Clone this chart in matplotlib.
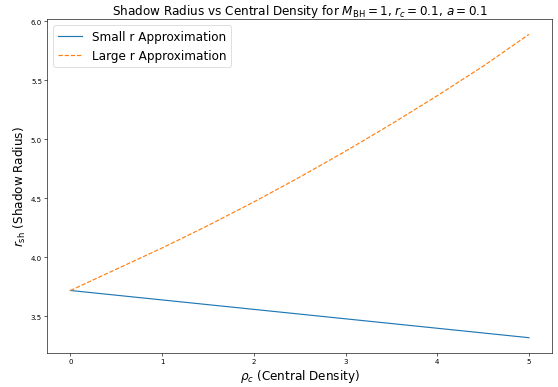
import numpy as np
import matplotlib.pyplot as plt

# central density values
rho_c = [0, 0.5, 1, 1.5, 2, 2.5, 3, 3.5, 4, 4.5, 5]
# shadow radius, small r approximation
r_small = [3.72, 3.68, 3.64, 3.60, 3.56, 3.52, 3.48, 3.44, 3.40, 3.36, 3.32]
# shadow radius, large r approximation
r_large = [3.72, 3.90, 4.08, 4.27, 4.47, 4.68, 4.90, 5.13, 5.37, 5.62, 5.89]

plt.figure(figsize=(10, 6.953), dpi=55.8)
plt.plot(rho_c, r_small, label="Small r Approximation")
plt.plot(rho_c, r_large, '--', label="Large r Approximation")
plt.xlabel(r"$\rho_c$ (Central Density)", fontsize=15.5)
plt.ylabel(r"$r_{\rm sh}$ (Shadow Radius)", fontsize=15.5)
plt.title(r"Shadow Radius vs Central Density for $M_{\rm BH} = 1$, $r_c = 0.1$, $a = 0.1$", fontsize=15.5)
plt.xticks(fontsize=9)
plt.yticks(fontsize=9)
plt.legend(fontsize=15.5)
plt.subplots_adjust(left=0.085, right=0.989, top=0.948, bottom=0.088)
plt.savefig("out.png", dpi=55.8)
